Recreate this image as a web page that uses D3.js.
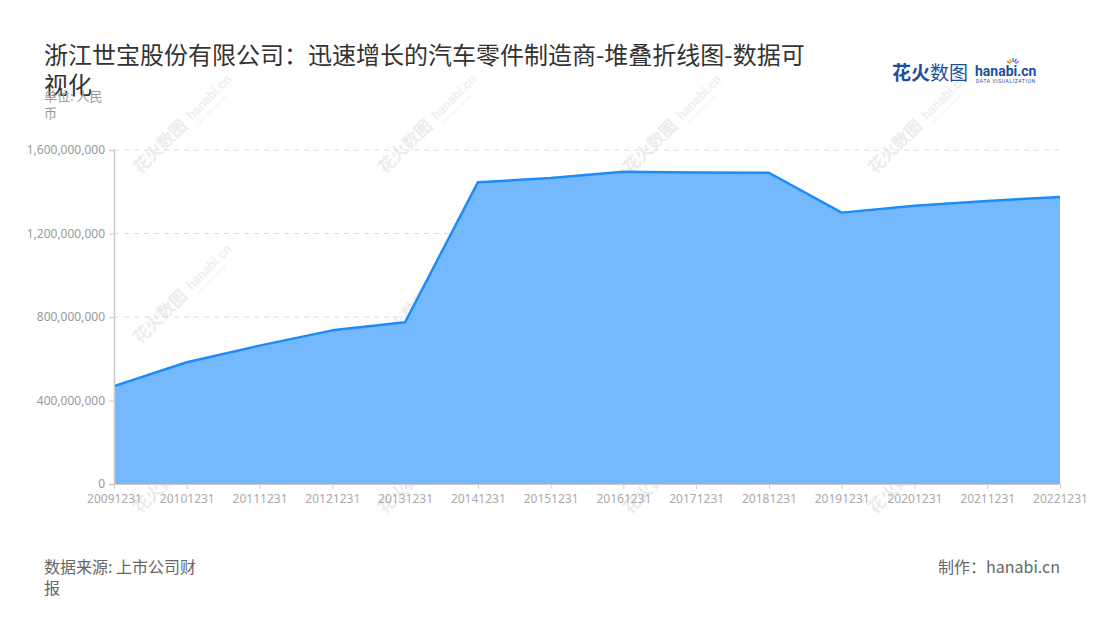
<!DOCTYPE html>
<html><head><meta charset="utf-8">
<script src="https://cdn.jsdelivr.net/npm/d3@7"></script>
<style>
body{margin:0;background:#fff;font-family:"Noto Sans CJK SC","Noto Sans",sans-serif;}
</style></head>
<body><svg id="c" width="1100" height="620"></svg>
<script>
const categories = ["20091231","20101231","20111231","20121231","20131231","20141231","20151231","20161231","20171231","20181231","20191231","20201231","20211231","20221231"];
const values = [469e6,583e6,663e6,736e6,775e6,1445e6,1466e6,1496e6,1492e6,1491e6,1300e6,1333e6,1356e6,1375e6];
const yTicks = [0,400e6,800e6,1200e6,1600e6];
const titleLines = ["浙江世宝股份有限公司：迅速增长的汽车零件制造商-堆叠折线图-数据可","视化"];

const svg = d3.select("#c");
const m = {l:114, r:1060, t:150, b:484};
const x = d3.scalePoint().domain(categories).range([m.l, m.r]);
const y = d3.scaleLinear().domain([0,1600e6]).range([m.b, m.t]);

// watermarks
const wm = svg.append("g");
for (let i=0;i<4;i++) for (let j=0;j<3;j++) {
  const cx = 165 + 245*i, cy = 150 + 170*j;
  const g = wm.append("g").attr("transform",`translate(${cx},${cy}) rotate(-45)`);
  g.append("text").attr("x",-35).attr("y",0).attr("font-size",17).attr("font-weight","bold").attr("fill","#ececec").text("花火数图");
  g.append("text").attr("x",40).attr("y",-2).attr("font-size",13).attr("font-weight","bold").attr("fill","#efefef").attr("font-family","Roboto,sans-serif").text("hanabi.cn");
  g.append("text").attr("x",42).attr("y",6).attr("font-size",4).attr("fill","#efefef").attr("font-family","Roboto,sans-serif").text("DATA VISUALIZATION");
}

// grid
svg.append("g").selectAll("line").data(yTicks.slice(1)).join("line")
  .attr("x1",m.l).attr("x2",m.r).attr("y1",d=>y(d)).attr("y2",d=>y(d))
  .attr("stroke","#dcdcdc").attr("stroke-dasharray","5,5");

// area
const area = d3.area().x((d,i)=>x(categories[i])).y0(y(0)).y1(d=>y(d));
const line = d3.line().x((d,i)=>x(categories[i])).y(d=>y(d));
svg.append("path").datum(values).attr("d",area).attr("fill","#74b9fd");
svg.append("path").datum(values).attr("d",line).attr("fill","none").attr("stroke","#1d8cf8").attr("stroke-width",2.5).attr("stroke-linejoin","round");

// axes
const fmt = d3.format(",");
const ya = svg.append("g").attr("transform",`translate(${m.l},0)`)
  .call(d3.axisLeft(y).tickValues(yTicks).tickFormat(d=>fmt(d)).tickSize(5).tickPadding(4));
ya.select(".domain").attr("stroke","#cccccc").attr("stroke-width",1.5);
ya.selectAll(".tick line").attr("stroke","#cccccc");
ya.selectAll("text").attr("fill","#999").attr("font-size",12).attr("font-family","'Noto Sans',sans-serif");

const xa = svg.append("g").attr("transform",`translate(0,${m.b})`)
  .call(d3.axisBottom(x).tickSize(5).tickPadding(5).tickSizeOuter(0));
xa.select(".domain").attr("stroke","#cccccc").attr("stroke-width",1);
xa.selectAll(".tick line").attr("stroke","#cccccc");
xa.selectAll("text").attr("fill","#aaa").attr("font-size",12).attr("font-family","'Noto Sans',sans-serif");

// title
svg.append("g").selectAll("text").data(titleLines).join("text")
  .attr("x",44).attr("y",(d,i)=>64+i*30).attr("font-size",24).attr("fill","#333").text(d=>d);

// unit
svg.append("text").attr("x",44).attr("y",101).attr("font-size",13).attr("fill","#999").text("单位: 人民");
svg.append("text").attr("x",44).attr("y",118).attr("font-size",13).attr("fill","#999").text("币");

// footer
svg.append("text").attr("x",44).attr("y",573).attr("font-size",16).attr("fill","#666").text("数据来源: 上市公司财");
svg.append("text").attr("x",44).attr("y",594).attr("font-size",16).attr("fill","#666").text("报");
svg.append("text").attr("x",1060).attr("y",573).attr("text-anchor","end").attr("font-size",16).attr("fill","#666").text("制作：hanabi.cn");

// logo
const lg = svg.append("g");
lg.append("text").attr("x",892).attr("y",80).attr("font-size",19).attr("font-weight","bold").attr("fill","#1b4f9e").text("花火");
lg.append("text").attr("x",930).attr("y",80).attr("font-size",19).attr("fill","#1b4f9e").text("数图");
lg.append("text").attr("x",975).attr("y",76).attr("font-size",14).attr("font-weight","bold").attr("fill","#1b4f9e").attr("font-family","Roboto,sans-serif").text("hanabi.cn");
lg.append("text").attr("x",976).attr("y",83).attr("font-size",5).attr("fill","#1b4f9e").attr("font-family","Roboto,sans-serif").attr("letter-spacing",0.6).text("DATA VISUALIZATION");
const cols=["#f25c54","#f7b32b","#3fb950","#1d8cf8","#a855f7"];
cols.forEach((c,i)=>{const a=-Math.PI/2+(i-2)*0.5; lg.append("line").attr("x1",1013+Math.cos(a)*3).attr("y1",65+Math.sin(a)*3).attr("x2",1013+Math.cos(a)*7).attr("y2",65+Math.sin(a)*7).attr("stroke",c).attr("stroke-width",1.5);});
</script></body></html>
